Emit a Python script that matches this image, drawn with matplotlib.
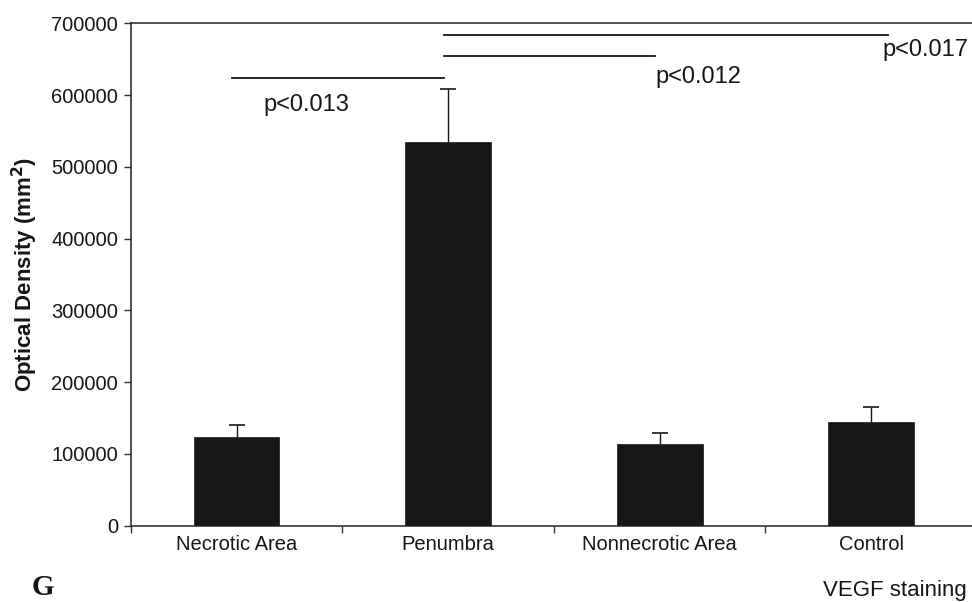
import numpy as np
import matplotlib
matplotlib.use('Agg')
from matplotlib import pyplot as plt

categories = ['Necrotic Area', 'Penumbra', 'Nonnecrotic Area', 'Control']
density = [124000, 535000, 114000, 145000]
density_err = [17000, 74000, 15500, 20500]

# significance brackets: (x start, x end, height, label)
sig_x0 = [-0.02, 0.98, 0.98]
sig_x1 = [0.98, 1.98, 3.08]
sig_y = [624000, 654000, 684000]
sig_labels = ['p<0.013', 'p<0.012', 'p<0.017']
sig_text_x = [0.125, 1.98, 3.055]
sig_text_y = [586000, 625000, 663000]

plt.rcParams['font.family'] = ['Liberation Sans', 'DejaVu Sans']
ink = '#161616'

fig = plt.figure(figsize=(9.72, 6.02), dpi=100)
ax = fig.add_axes([0.1345, 0.1268, 0.8707, 0.8342])

x = np.arange(len(categories))
ax.bar(x, density, width=0.405, color=ink, edgecolor=ink, linewidth=0.5, zorder=2)
eb = ax.errorbar(x, density, yerr=[np.zeros(len(density)), density_err], fmt='none',
                 ecolor=ink, elinewidth=1.0, capsize=5.5, capthick=1.2, zorder=1)
# only the upper cap is wanted
eb[1][0].set_visible(False)

for x0, x1, y, lab, tx, ty in zip(sig_x0, sig_x1, sig_y, sig_labels, sig_text_x, sig_text_y):
    ax.plot([x0, x1], [y, y], color=ink, linewidth=1.3, clip_on=False)
    ax.text(tx, ty, lab, fontsize=17, color=ink, ha='left', va='center')

ax.set_xlim(-0.5, 3.5)
ax.set_ylim(0, 700000)
ax.set_yticks(np.arange(0, 700001, 100000))
ax.set_yticklabels([str(v) for v in range(0, 700001, 100000)])
ax.set_xticks(np.arange(-0.5, 3.6, 1.0))
ax.set_xticklabels([])
ax.set_xticks(x, minor=True)
ax.set_xticklabels(categories, minor=True)
ax.tick_params(axis='x', which='minor', length=0, pad=7, labelsize=14.5, labelcolor=ink)
ax.tick_params(axis='x', which='major', length=5, width=1, color='#333333')
ax.tick_params(axis='y', length=5, width=1, color='#333333', labelsize=14.5, labelcolor=ink, pad=4)

for side in ['left', 'bottom', 'top', 'right']:
    ax.spines[side].set_linewidth(1.1)
    ax.spines[side].set_color('#222222')

ax.set_ylabel('Optical Density (mm$^\\mathbf{2}$)', fontsize=16, fontweight='bold', color=ink, labelpad=8)

fig.text(0.033, 0.012, 'G', fontsize=21, fontweight='bold', family='Liberation Serif', color=ink)
fig.text(0.847, 0.002, 'VEGF staining', fontsize=16, color=ink, va='bottom')

fig.savefig('out.png', dpi=100)
